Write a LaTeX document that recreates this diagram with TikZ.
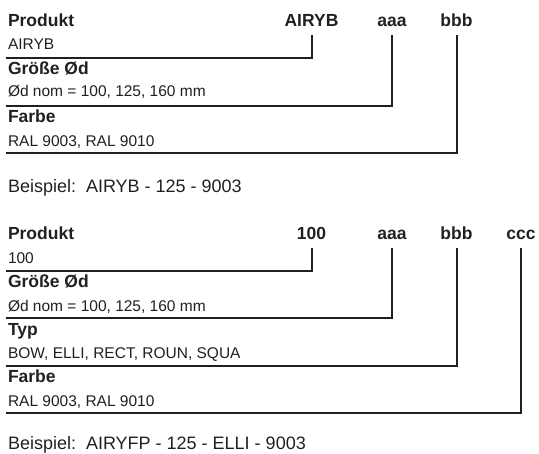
\documentclass[tikz,border=0pt]{standalone}
\usepackage{fontspec}
\setmainfont{Liberation Sans}
\definecolor{ink}{HTML}{231F20}
\begin{document}
\begin{tikzpicture}[x=1bp,y=-1bp,
  every node/.style={inner sep=0pt,outer sep=0pt,text=ink},
  hd/.style={anchor=base west,font=\fontsize{17.5bp}{20bp}\selectfont\bfseries},
  hdr/.style={anchor=base,font=\fontsize{17.5bp}{20bp}\selectfont\bfseries},
  body/.style={anchor=base west,font=\fontsize{15.5bp}{18bp}\selectfont},
  ex/.style={anchor=base west,font=\fontsize{18bp}{21bp}\selectfont},
  rule/.style={draw=ink,line width=2bp}]
\useasboundingbox (0,0) rectangle (539,454);
% ---------- top block ----------
\node[hd]   (p1)  at (8,27)    {Produkt};
\node[hdr]  (h1a) at (311.5,26.7) {AIRYB};
\node[hdr]  (h1b) at (392,26.7) {aaa};
\node[hdr]  (h1c) at (456.5,26.7) {bbb};
\node[body] (v1a) at (8,50)    {AIRYB};
\node[hd]   (g1)  at (8,75)    {Größe Ød};
\node[body] (v1b) at (8,97)    {Ød nom = 100, 125, 160 mm};
\node[hd]   (f1)  at (8,122.7) {Farbe};
\node[body] (v1c) at (8,146.7) {RAL 9003, RAL 9010};
\node[ex]   (e1)  at (8,192.7) {Beispiel:\ \ AIRYB - 125 - 9003};
\coordinate (s1a) at (5.5,58);
\coordinate (s1b) at (5.5,106);
\coordinate (s1c) at (5.5,152.7);
\draw[rule] (s1a) -| ([yshift=-8.3bp]h1a.base);
\draw[rule] (s1b) -| ([yshift=-8.3bp]h1b.base);
\draw[rule] (s1c) -| ([yshift=-8.3bp]h1c.base);
% ---------- bottom block ----------
\node[hd]   (p2)  at (8,240)   {Produkt};
\node[hdr]  (h2a) at (311.5,240) {100};
\node[hdr]  (h2b) at (392,240) {aaa};
\node[hdr]  (h2c) at (456.5,240) {bbb};
\node[hdr]  (h2d) at (521,240) {ccc};
\node[body] (v2a) at (8,263.3) {100};
\node[hd]   (g2)  at (8,287.3) {Größe Ød};
\node[body] (v2b) at (8,311)   {Ød nom = 100, 125, 160 mm};
\node[hd]   (t2)  at (8,335)   {Typ};
\node[body] (v2c) at (8,358.3) {BOW, ELLI, RECT, ROUN, SQUA};
\node[hd]   (f2)  at (8,382.7) {Farbe};
\node[body] (v2d) at (8,406.7) {RAL 9003, RAL 9010};
\node[ex]   (e2)  at (8,449.5) {Beispiel:\ \ AIRYFP - 125 - ELLI - 9003};
\coordinate (s2a) at (5.5,270.7);
\coordinate (s2b) at (5.5,318.3);
\coordinate (s2c) at (5.5,365.7);
\coordinate (s2d) at (5.5,413.3);
\draw[rule] (s2a) -| ([yshift=-8.3bp]h2a.base);
\draw[rule] (s2b) -| ([yshift=-8.3bp]h2b.base);
\draw[rule] (s2c) -| ([yshift=-8.3bp]h2c.base);
\draw[rule] (s2d) -| ([yshift=-8.3bp]h2d.base);
\end{tikzpicture}
\end{document}
